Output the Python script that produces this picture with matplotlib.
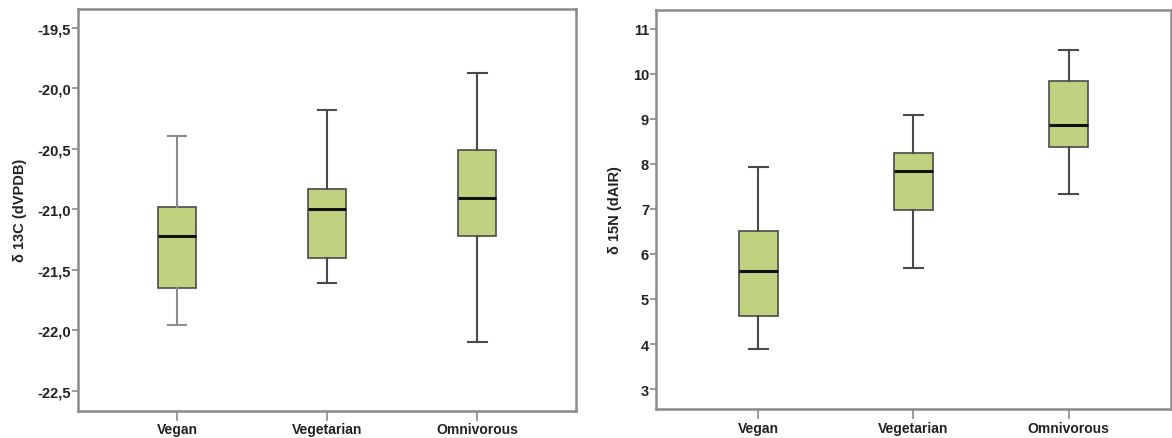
#!/usr/bin/env python
# boxplots of d13C and d15N by diet group
import matplotlib
matplotlib.use("Agg")
import matplotlib.pyplot as plt
from matplotlib.ticker import FuncFormatter, MultipleLocator

groups = ["Vegan", "Vegetarian", "Omnivorous"]

# d13C (whisker low, q1, median, q3, whisker high)
c13_low = [-21.96, -21.61, -22.10]
c13_q1 = [-21.65, -21.40, -21.22]
c13_med = [-21.22, -21.00, -20.91]
c13_q3 = [-20.98, -20.83, -20.51]
c13_high = [-20.39, -20.18, -19.87]

# d15N
n15_low = [3.89, 5.68, 7.33]
n15_q1 = [4.63, 6.98, 8.38]
n15_med = [5.63, 7.84, 8.87]
n15_q3 = [6.50, 8.24, 9.85]
n15_high = [7.94, 9.09, 10.53]

BOX_FILL = "#c0d27f"
EDGE = "#4a4a4a"
SPINE = "#8a8a8a"

plt.rcParams["font.family"] = ["Liberation Sans", "DejaVu Sans"]


def make_stats(low, q1, med, q3, high):
    stats = []
    for i, name in enumerate(groups):
        stats.append(dict(label=name, whislo=low[i], q1=q1[i], med=med[i],
                          q3=q3[i], whishi=high[i], fliers=[]))
    return stats


def draw(ax, stats, ylabel):
    parts = ax.bxp(stats, positions=[1, 2, 3], widths=0.25, patch_artist=True,
                   showfliers=False,
                   boxprops=dict(facecolor=BOX_FILL, edgecolor=EDGE, linewidth=1.2),
                   medianprops=dict(color="#111111", linewidth=2.2),
                   whiskerprops=dict(color=EDGE, linewidth=1.5),
                   capprops=dict(color=EDGE, linewidth=1.5))
    ax.set_xlim(0.34, 3.66)
    for s in ax.spines.values():
        s.set_color(SPINE)
        s.set_linewidth(1.8)
    ax.tick_params(axis="y", length=4, width=1.2, color=SPINE, labelsize=10.5,
                   labelcolor="#222222", pad=1)
    ax.tick_params(axis="x", length=7, width=1.2, color=SPINE, labelsize=10,
                   labelcolor="#222222", pad=1.5)
    for lbl in ax.get_xticklabels() + ax.get_yticklabels():
        lbl.set_fontweight("bold")
    ax.set_ylabel(ylabel, fontsize=10.5, fontweight="bold", color="#222222")
    return parts


fig = plt.figure(figsize=(11.72, 4.39), dpi=100)
ax1 = fig.add_axes([0.0666, 0.0622, 0.425, 0.915])
ax2 = fig.add_axes([0.5597, 0.066, 0.4394, 0.909])

p1 = draw(ax1, make_stats(c13_low, c13_q1, c13_med, c13_q3, c13_high), "δ 13C (dVPDB)")
# first group's whiskers look lighter in the original
for ln in p1["whiskers"][:2] + p1["caps"][:2]:
    ln.set_color("#8c8c8c")
ax1.set_ylim(-22.665, -19.343)
ax1.yaxis.set_major_locator(MultipleLocator(0.5))
ax1.yaxis.set_major_formatter(FuncFormatter(lambda v, p: f"{v:.1f}".replace(".", ",")))
ax1.yaxis.set_label_coords(-0.102, 0.5)

draw(ax2, make_stats(n15_low, n15_q1, n15_med, n15_q3, n15_high), "δ 15N (dAIR)")
ax2.set_ylim(2.556, 11.42)
ax2.yaxis.set_major_locator(MultipleLocator(1))
ax2.yaxis.set_label_coords(-0.066, 0.5)

fig.savefig("out.png", dpi=100)
